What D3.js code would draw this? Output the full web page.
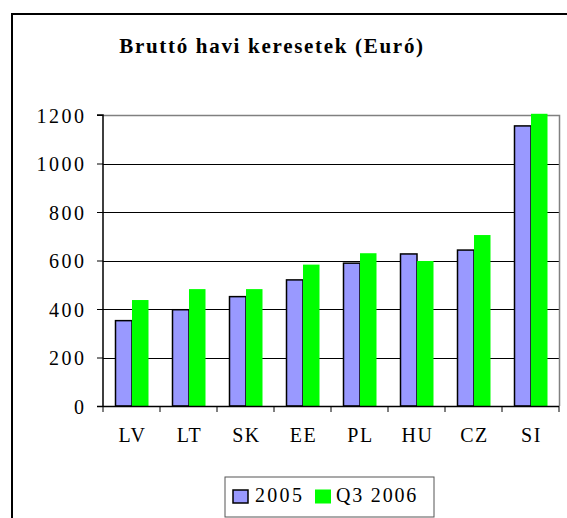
<!DOCTYPE html>
<html><head><meta charset="utf-8">
<script src="https://cdn.jsdelivr.net/npm/d3@7/dist/d3.min.js"></script>
<style>body{margin:0;background:#fff}svg{display:block}text{font-family:"Liberation Serif","Times New Roman",serif;fill:#000}</style>
</head><body><svg id="c" width="567" height="518"></svg>
<script>
const categories = ["LV","LT","SK","EE","PL","HU","CZ","SI"];
const values2005 = [352, 397, 451, 520, 589, 627, 643, 1155];
const valuesQ32006 = [437, 482, 482, 583, 630, 598, 705, 1205];
const seriesNames = ["2005","Q3 2006"];
const yTicks = [0,200,400,600,800,1000,1200];

const svg = d3.select("#c");
const L = 103, R = 559, T = 115, B = 406;
const x = d3.scaleBand().domain(categories).range([L, R]);
const y = d3.scaleLinear().domain([0, 1200]).range([B, T]);
const bw = 16.5;
const off = (x.bandwidth() - 2*bw)/2 + 0.5;

// outer frame
svg.append("rect").attr("x",12).attr("y",14).attr("width",700).attr("height",700)
  .attr("fill","none").attr("stroke","#000").attr("stroke-width",2);

// title
svg.append("text").attr("x",272).attr("y",53).attr("text-anchor","middle")
  .attr("font-size",21).attr("font-weight","bold").attr("letter-spacing",1.7)
  .text("Bruttó havi keresetek (Euró)");

// gridlines
svg.append("g").selectAll("line").data(yTicks.filter(d=>d>0 && d<1200)).join("line")
  .attr("x1",L).attr("x2",R).attr("y1",d=>Math.round(y(d))+0.5).attr("y2",d=>Math.round(y(d))+0.5)
  .attr("stroke","#000").attr("stroke-width",1);
// top & right border
svg.append("path").attr("d",`M${L},${T+0.5}H${R+0.5}V${B}`).attr("fill","none").attr("stroke","#808080").attr("stroke-width",1.5);

const data = categories.map((c,i)=>({c, a:values2005[i], b:valuesQ32006[i]}));
const g = svg.append("g");
g.selectAll("rect.a").data(data).join("rect").attr("class","a")
  .attr("x",d=>x(d.c)+off).attr("y",d=>y(d.a)).attr("width",bw).attr("height",d=>B-y(d.a))
  .attr("fill","#9999ff").attr("stroke","#000").attr("stroke-width",1.5);
g.selectAll("rect.b").data(data).join("rect").attr("class","b")
  .attr("x",d=>x(d.c)+off+bw).attr("y",d=>y(d.b)).attr("width",bw).attr("height",d=>B-y(d.b))
  .attr("fill","#00ff00");

// y axis
const ya = svg.append("g").attr("transform",`translate(${L},0)`)
  .call(d3.axisLeft(y).tickValues(yTicks).tickSize(6).tickPadding(13).tickFormat(d3.format("d")));
ya.select(".domain").attr("stroke","#000").attr("stroke-width",1.5).attr("d",`M-6,${T}H0V${B}`);
ya.selectAll(".tick line").attr("stroke","#000");
ya.selectAll("text").attr("font-size",20).attr("letter-spacing",2.5).attr("font-family",null).attr("dx",2.5).attr("dy","0.35em");

// x axis
const xa = svg.append("g").attr("transform",`translate(0,${B})`);
xa.append("line").attr("x1",L-6).attr("x2",R).attr("y1",0.5).attr("y2",0.5).attr("stroke","#000").attr("stroke-width",1.5);
const bounds = categories.map(c=>x(c)).concat([R]);
xa.selectAll("line.t").data(bounds).join("line").attr("class","t")
  .attr("x1",d=>d).attr("x2",d=>d).attr("y1",0).attr("y2",6).attr("stroke","#000");
xa.selectAll("text").data(categories).join("text")
  .attr("x",d=>x(d)+x.bandwidth()/2+1).attr("y",36).attr("text-anchor","middle")
  .attr("font-size",20).attr("letter-spacing",1.5).text(d=>d);

// legend
const lg = svg.append("g");
lg.append("rect").attr("x",225).attr("y",477).attr("width",209).attr("height",40).attr("fill","#fff").attr("stroke","#555").attr("stroke-width",1);
lg.append("rect").attr("x",233).attr("y",490).attr("width",15).attr("height",13).attr("fill","#9999ff").attr("stroke","#000").attr("stroke-width",1.5);
lg.append("text").attr("x",255).attr("y",502).attr("font-size",20).attr("letter-spacing",2.3).text(seriesNames[0]);
lg.append("rect").attr("x",315).attr("y",489.5).attr("width",16).attr("height",14).attr("fill","#00ff00");
lg.append("text").attr("x",336).attr("y",502).attr("font-size",20).attr("letter-spacing",1.8).text(seriesNames[1]);
</script></body></html>
